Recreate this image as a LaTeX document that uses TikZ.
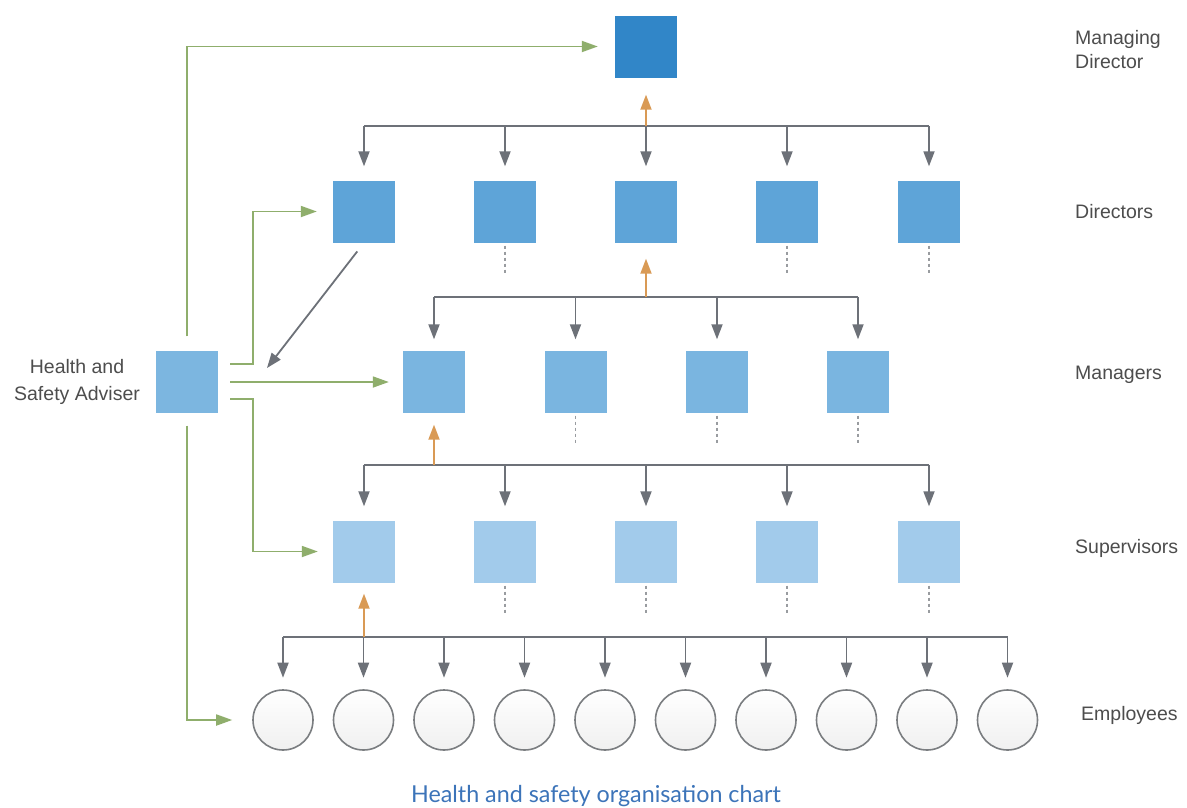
\documentclass[tikz,border=0pt]{standalone}
\usepackage{fontspec}
\setmainfont{Liberation Sans}
\newfontfamily\capfont{Lato}
\usetikzlibrary{arrows.meta,calc}
\definecolor{mdblue}{HTML}{3186C8}
\definecolor{dirblue}{HTML}{5EA4D8}
\definecolor{manblue}{HTML}{7AB5E0}
\definecolor{supblue}{HTML}{A2CBEB}
\definecolor{advblue}{HTML}{7CB6E0}
\definecolor{lgray}{HTML}{6D7178}
\definecolor{lorange}{HTML}{D99A55}
\definecolor{lgreen}{HTML}{8FAE6C}
\definecolor{txtgray}{HTML}{4D4D4D}
\definecolor{capblue}{HTML}{3C74B9}
\definecolor{circgray}{HTML}{7A7D80}
\begin{document}
\begin{tikzpicture}[x=1pt,y=-1pt,
  box/.style={rectangle,minimum width=62pt,minimum height=62pt,inner sep=0pt,draw=none},
  emp/.style={circle,minimum size=60pt,inner sep=0pt,draw=circgray,line width=1.6pt,top color=white,bottom color=black!6},
  gline/.style={draw=lgray,line width=1.8pt},
  garrow/.style={draw=lgray,line width=1.8pt,-{Triangle[length=15pt,width=11pt]}},
  oarrow/.style={draw=lorange,line width=1.8pt,-{Triangle[length=15pt,width=11pt]}},
  grarrow/.style={draw=lgreen,line width=1.8pt,-{Triangle[length=16pt,width=11pt]}},
  dashl/.style={draw=lgray!70,line width=1.2pt,dash pattern=on 3pt off 3pt},
  lbl/.style={font=\fontsize{19.5}{24}\selectfont,text=txtgray,inner sep=0pt}]
\useasboundingbox (0,0) rectangle (1187,807);
\fill[white] (0,0) rectangle (1187,807);

% nodes
\node[box,fill=mdblue] (md) at (646,46.5) {};
\foreach \i/\x in {1/364,2/505,3/646,4/787,5/929}
  \node[box,fill=dirblue] (d\i) at (\x,211.5) {};
\foreach \i/\x in {1/434,2/575.5,3/717,4/858}
  \node[box,fill=manblue] (m\i) at (\x,381.5) {};
\foreach \i/\x in {1/364,2/505,3/646,4/787,5/929}
  \node[box,fill=supblue] (s\i) at (\x,551.5) {};
\foreach \i in {1,...,10}
  \node[emp] (e\i) at ({283+80.5*(\i-1)},720) {};
\node[box,fill=advblue] (adv) at (187,381.5) {};

% labels
\node[lbl,anchor=west,align=left] (lmd) at (1075,50) {Managing\\Director};
\node[lbl,anchor=west] (ldir) at (1075,212) {Directors};
\node[lbl,anchor=west] (lman) at (1075,375) {Managers};
\node[lbl,anchor=west] (lsup) at (1075,548) {Supervisors};
\node[lbl,anchor=west] (lemp) at (1081,715) {Employees};
\node[lbl,align=center,font=\fontsize{19.5}{27}\selectfont] (ladv) at (77,382) {Health and\\Safety Adviser};
\node[anchor=base,inner sep=0pt,text=capblue,font=\capfont\fontsize{23.3}{27}\selectfont] (cap) at (596,802) {Health and safety organisation chart};

% bus coordinates
\coordinate (dbus) at (646,126);
\coordinate (mbus) at (646,297);
\coordinate (sbus) at (646,465);
\coordinate (ebus) at (646,637);

% directors tier
\draw[gline] (d1 |- dbus) -- (d5 |- dbus);
\foreach \i in {1,...,5}
  \draw[garrow,shorten >=14pt] (d\i |- dbus) -- (d\i.north);
\draw[oarrow,shorten >=17pt] (md |- dbus) -- (md.south);

% managers tier
\draw[gline] (m1 |- mbus) -- (m4 |- mbus);
\foreach \i in {1,...,4}
  \draw[garrow,shorten >=11pt] (m\i |- mbus) -- (m\i.north);
\draw[oarrow,shorten >=16pt] (d3 |- mbus) -- (d3.south);

% supervisors tier
\draw[gline] (s1 |- sbus) -- (s5 |- sbus);
\foreach \i in {1,...,5}
  \draw[garrow,shorten >=14pt] (s\i |- sbus) -- (s\i.north);
\draw[oarrow,shorten >=12pt] (m1 |- sbus) -- (m1.south);

% employees tier
\draw[gline] (e1 |- ebus) -- (e10 |- ebus);
\foreach \i in {1,...,10}
  \draw[garrow,shorten >=11.5pt] (e\i |- ebus) -- (e\i.north);
\draw[oarrow,shorten >=11pt] (s1 |- ebus) -- (s1.south);

% dashed stubs
\foreach \n in {d2,d4,d5,m2,m3,m4,s2,s3,s4,s5}
  \draw[dashl] ([yshift=-3pt]\n.south) -- ++(0,27);

% diagonal
\coordinate (diagend) at (267,368);
\draw[garrow,shorten <=11pt] (d1.south) -- (diagend);

% green adviser lines
\coordinate (advU) at (230,364);
\coordinate (advM) at (230,382);
\coordinate (advL) at (230,399);
\draw[grarrow,shorten <=14pt,shorten >=17pt] (adv.north) |- (md.west);
\draw[grarrow,shorten >=16pt] (advU) -- ++(23,0) |- (d1.west);
\draw[grarrow,shorten >=14pt] (advM) -- (advM -| m1.west);
\draw[grarrow,shorten >=15pt] (advL) -- ++(23,0) |- (s1.west);
\draw[grarrow,shorten <=13pt,shorten >=20pt] (adv.south) |- (e1.west);
\end{tikzpicture}
\end{document}
